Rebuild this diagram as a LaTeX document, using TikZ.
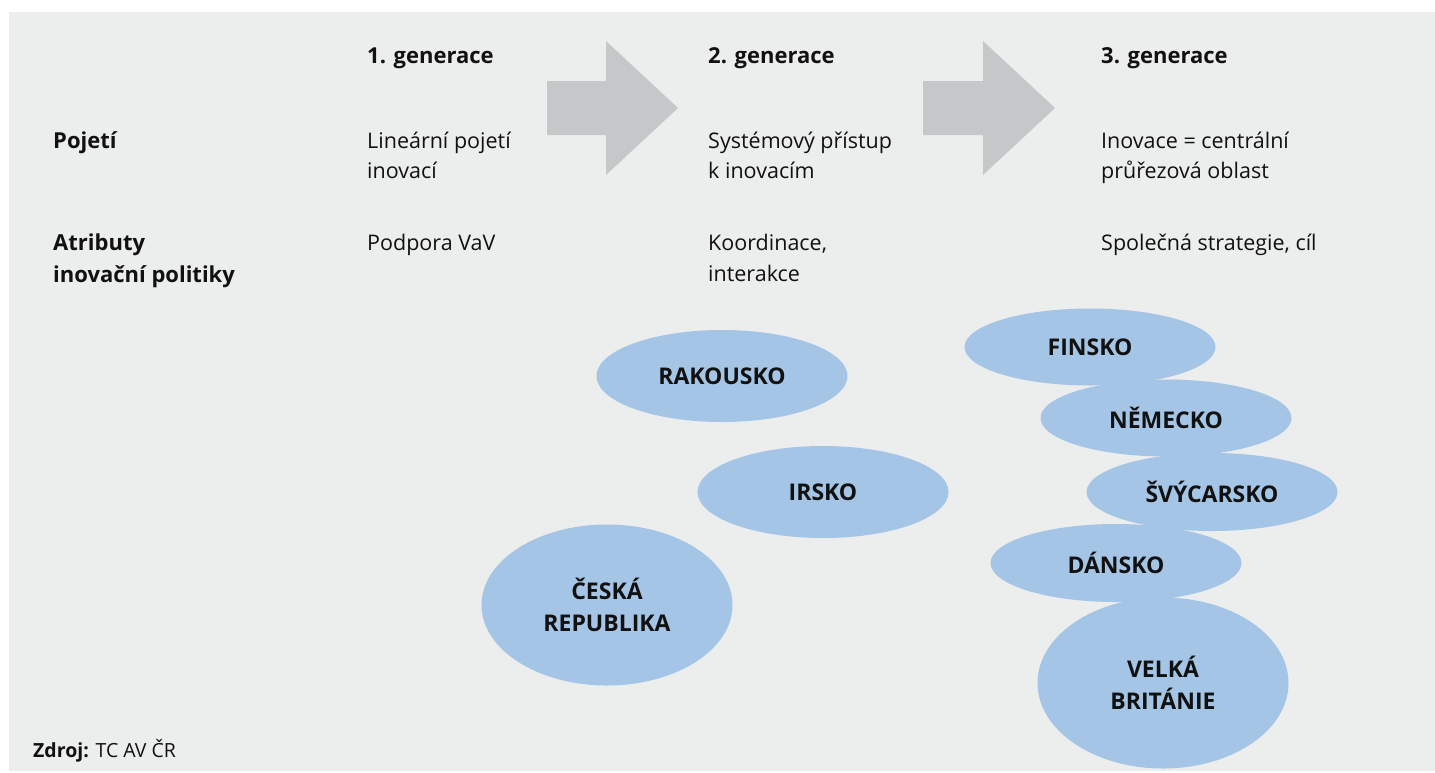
\documentclass[tikz,border=0pt]{standalone}
\usepackage{fontspec}
\setmainfont{Open Sans}
\usetikzlibrary{shapes.geometric}

\definecolor{panelgray}{HTML}{ECEDED}
\definecolor{arrowgray}{HTML}{C6C7C9}
\definecolor{countryblue}{HTML}{A5C5E6}
\definecolor{ink}{HTML}{111111}

\tikzset{
  x=1pt, y=-1pt,
  % multi-line nodes are placed by the baseline of their last line
  txt/.style={anchor=base west, inner sep=0pt, text=ink, align=left,
              font=\fontsize{21.5}{30}\selectfont},
  txtwide/.style={txt, font=\fontsize{21.5}{31}\selectfont},
  head/.style={txt, font=\fontsize{22}{30}\selectfont\bfseries},
  headwide/.style={txt, font=\fontsize{22}{32}\selectfont\bfseries},
  country/.style={ellipse, fill=countryblue, inner sep=0pt, text=ink,
                  align=center, minimum width=251pt,
                  font=\fontsize{23}{32.5}\selectfont\bfseries},
  genarrow/.style={fill=arrowgray},
}

\begin{document}
\begin{tikzpicture}
% page and grey panel
\useasboundingbox (0,0) rectangle (1435,772);
\fill[white] (0,0) rectangle (1435,772);
\fill[panelgray] (9,12) rectangle (1435,771);

% arrows between the generations
\fill[genarrow] (547,81) -- (606,81) -- (606,41) -- (678,108) -- (606,175)
  -- (606,135) -- (547,135) -- cycle;
\fill[genarrow] (923,81) -- (983,81) -- (983,41) -- (1055,108) -- (983,175)
  -- (983,135) -- (923,135) -- cycle;

% column headings
\node[head] (g1) at (367,63) {1. generace};
\node[head] (g2) at (708,63) {2. generace};
\node[head] (g3) at (1101,63) {3. generace};

% row: Pojetí
\node[head] (r1) at (53,148) {Pojetí};
\node[txt] (p1) at (367,178) {Lineární pojetí\\inovací};
\node[txt] (p2) at (708,178) {Systémový přístup\\k inovacím};
\node[txt] (p3) at (1101,178) {Inovace = centrální\\průřezová oblast};

% row: Atributy inovační politiky
\node[headwide] (r2) at (53,282) {Atributy\\inovační politiky};
\node[txt] (a1) at (367,250) {Podpora VaV};
\node[txtwide] (a2) at (708,281) {Koordinace,\\interakce};
\node[txt] (a3) at (1101,250) {Společná strategie, cíl};

% countries, second generation
\node[country, minimum height=92pt] (at) at (722,376) {RAKOUSKO};
\node[country, minimum height=92pt] (ie) at (823,492) {IRSKO};
\node[country, minimum height=161pt] (cz) at (607,605) {ČESKÁ\\REPUBLIKA};

% countries, third generation
\node[country, minimum height=77pt] (fi) at (1090,347) {FINSKO};
\node[country, minimum height=77pt] (de) at (1166,418) {NĚMECKO};
\node[country, minimum height=78pt] (ch) at (1212,492) {ŠVÝCARSKO};
\node[country, minimum height=78pt] (dk) at (1116,563) {DÁNSKO};
\node[country, minimum height=171pt] (uk) at (1163,683) {VELKÁ\\BRITÁNIE};

% source
\node[txt, font=\fontsize{19.5}{24}\selectfont] (src) at (33,757)
  {\textbf{Zdroj:} TC AV ČR};
\end{tikzpicture}
\end{document}
